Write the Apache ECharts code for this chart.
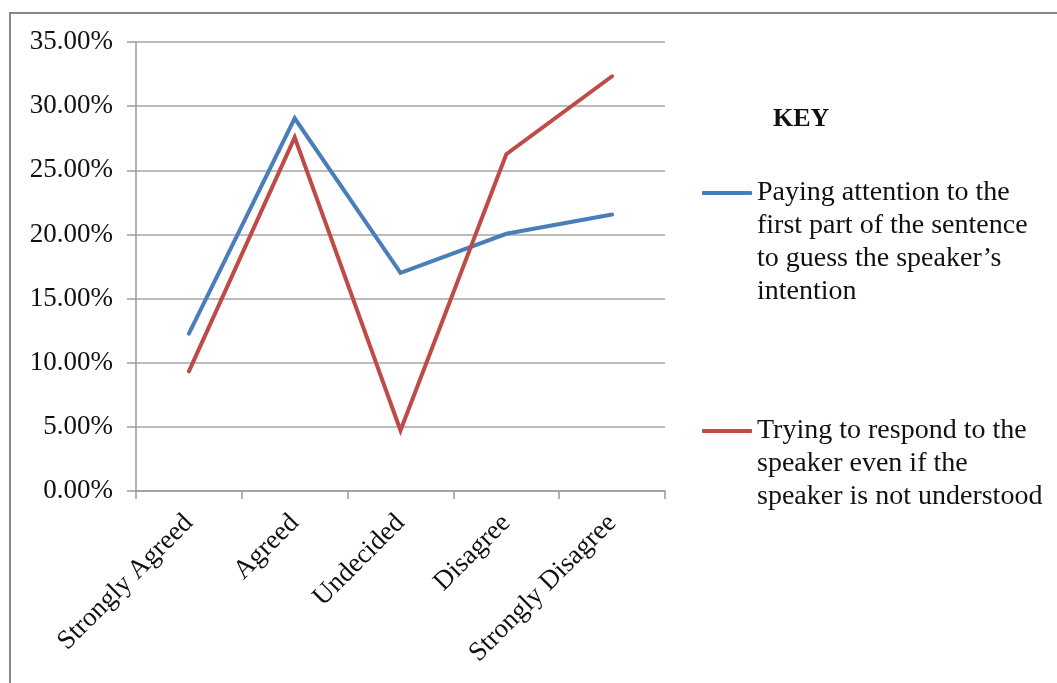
<!DOCTYPE html>
<html>
<head>
<meta charset="utf-8">
<style>
  html, body { margin: 0; padding: 0; background: #fff; }
  #chart { width: 1057px; height: 683px; }
</style>
<script src="https://cdn.jsdelivr.net/npm/echarts@6/dist/echarts.min.js"></script>
</head>
<body>
<div id="chart"></div>
<script>
  // categories and series values (percent)
  const categories = ['Strongly Agreed', 'Agreed', 'Undecided', 'Disagree', 'Strongly Disagree']
  const payingAttention = [12.26, 29.05, 17.0, 20.05, 21.55]
  const tryingToRespond = [9.32, 27.57, 4.72, 26.25, 32.33]
  const seriesNames = [
    'Paying attention to the\nfirst part of the sentence\nto guess the speaker\u2019s\nintention',
    'Trying to respond to the\nspeaker even if the\nspeaker is not understood'
  ]

  const font = '"Liberation Serif", "Times New Roman", serif'
  const fontSize = 27
  const lineH = 33

  const chart = echarts.init(document.getElementById('chart'))

  // legend text is centred on the icon; empty lines in front put the first line level with the icon
  function legendFor(name, iconY) {
    const lines = name.split('\n').length
    const blockH = (2 * lines - 1) * lineH
    return {
      data: [name],
      left: 702,
      top: iconY - blockH / 2,
      padding: 0,
      icon: 'roundRect',
      itemWidth: 50,
      itemHeight: 4,
      selectedMode: false,
      formatter: n => '\n'.repeat(lines - 1) + n,
      textStyle: {
        fontFamily: font,
        fontSize: 28,
        color: '#111',
        lineHeight: lineH
      }
    }
  }

  chart.setOption({
    backgroundColor: '#fff',
    animation: false,
    graphic: [
      {
        type: 'rect',
        shape: { x: 10, y: 13, width: 1100, height: 720 },
        style: { fill: 'none', stroke: '#878787', lineWidth: 2 },
        silent: true
      },
      {
        type: 'text',
        left: 773,
        top: 106,
        style: {
          text: 'KEY',
          fontFamily: font,
          fontSize: 26,
          fontWeight: 'bold',
          fill: '#111'
        }
      }
    ],
    legend: [legendFor(seriesNames[0], 193), legendFor(seriesNames[1], 431)],
    grid: {
      left: 136,
      right: 392,
      top: 42,
      bottom: 192,
      containLabel: false
    },
    xAxis: {
      type: 'category',
      data: categories,
      boundaryGap: true,
      axisLine: { lineStyle: { color: '#9a9a9a', width: 1.5 } },
      axisTick: { show: true, length: 8, lineStyle: { color: '#9a9a9a', width: 1.5 } },
      axisLabel: {
        rotate: 45,
        interval: 0,
        margin: 28,
        fontFamily: font,
        fontSize: fontSize,
        color: '#111'
      },
      splitLine: { show: false }
    },
    yAxis: {
      type: 'value',
      min: 0,
      max: 35,
      interval: 5,
      axisLine: { show: true, lineStyle: { color: '#9a9a9a', width: 1.5 } },
      axisTick: { show: true, length: 9, lineStyle: { color: '#9a9a9a', width: 1.5 } },
      axisLabel: {
        margin: 23,
        fontFamily: font,
        fontSize: fontSize,
        color: '#111',
        formatter: v => v.toFixed(2) + '%'
      },
      splitLine: { show: true, lineStyle: { color: '#a6a6a6', width: 1.5 } }
    },
    series: [
      {
        name: seriesNames[0],
        type: 'line',
        data: payingAttention,
        symbol: 'none',
        color: '#4a7ebb',
        lineStyle: { width: 4, color: '#4a7ebb', cap: 'round', join: 'miter' }
      },
      {
        name: seriesNames[1],
        type: 'line',
        data: tryingToRespond,
        symbol: 'none',
        color: '#be4b48',
        lineStyle: { width: 4, color: '#be4b48', cap: 'round', join: 'miter' }
      }
    ]
  })
</script>
</body>
</html>
